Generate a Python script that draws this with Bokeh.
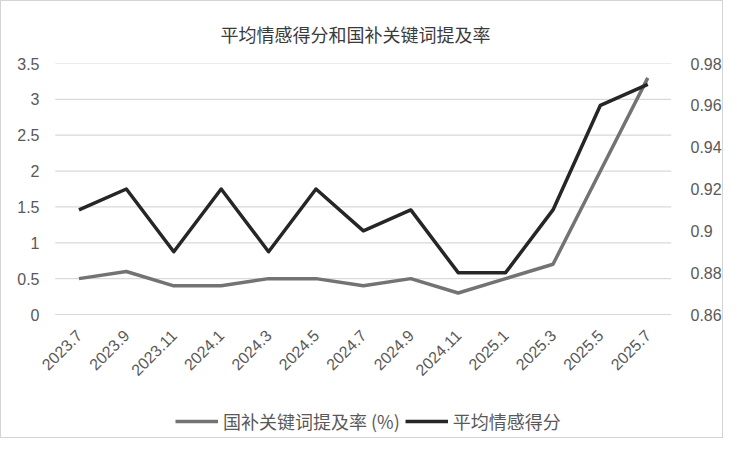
from bokeh.plotting import figure
from bokeh.models import (Range1d, LinearAxis, FixedTicker, CustomJSTickFormatter,
                          Legend, LegendItem)
from bokeh.embed import file_html
from bokeh.resources import INLINE
import math

categories = ["2023.7", "2023.9", "2023.11", "2024.1", "2024.3", "2024.5", "2024.7",
              "2024.9", "2024.11", "2025.1", "2025.3", "2025.5", "2025.7"]
mention_rate = [0.5, 0.6, 0.4, 0.4, 0.5, 0.5, 0.4, 0.5, 0.3, 0.5, 0.7, 2.0, 3.3]
sentiment = [0.91, 0.92, 0.89, 0.92, 0.89, 0.92, 0.90, 0.91, 0.88, 0.88, 0.91, 0.96, 0.97]
left_ticks = [0, 0.5, 1, 1.5, 2, 2.5, 3, 3.5]
right_ticks = [0.86, 0.88, 0.90, 0.92, 0.94, 0.96, 0.98]
title_text = "平均情感得分和国补关键词提及率"
series_names = ["国补关键词提及率 (%)", "平均情感得分"]

NUM_FONT = "Liberation Sans"
CJK_FONT = "Noto Sans CJK SC"
TXT = "#595959"

# ---- layout (pixels) ----
W, H = 723, 438
TOP, BOTTOM = 62, 2
LEFT, RIGHT = 38, 43
PLOT_H = 251                      # height of the 0..3.5 value region
GRID_W = 626                      # width of the gridlines
frame_h = H - TOP - BOTTOM
frame_w = W - LEFT - RIGHT
extra_bottom = frame_h - PLOT_H   # room below value 0 for labels + legend

n = len(categories)
xs = list(range(n))
cat_w = GRID_W / n
x_end = n - 0.5
x_start = x_end - frame_w / cat_w

l_lo, l_hi = left_ticks[0], left_ticks[-1]
r_lo, r_hi = right_ticks[0], right_ticks[-1]
l_start = l_lo - extra_bottom * (l_hi - l_lo) / PLOT_H
r_start = r_lo - extra_bottom * (r_hi - r_lo) / PLOT_H

p = figure(width=W, height=H, x_range=Range1d(x_start, x_end),
           y_range=Range1d(l_start, l_hi), output_backend="svg", toolbar_location=None,
           min_border_left=LEFT, min_border_right=RIGHT, min_border_top=TOP,
           min_border_bottom=BOTTOM)
p.styles = {"border": "1px solid #d4d4d4"}
p.extra_y_ranges = {"right": Range1d(r_start, r_hi)}
p.outline_line_color = None
p.background_fill_color = "white"

p.title.text = title_text
p.title.align = "center"
p.title.text_font = CJK_FONT
p.title.text_font_size = "18px"
p.title.text_font_style = "normal"
p.title.text_color = "#3a3a3a"
p.title.standoff = 33

fmt = CustomJSTickFormatter(code="return String(Math.round(tick*100)/100);")

yl = p.yaxis[0]
yl.ticker = FixedTicker(ticks=left_ticks)
yl.formatter = fmt
yl.major_label_standoff = -6
yr = LinearAxis(y_range_name="right", ticker=FixedTicker(ticks=right_ticks), formatter=fmt)
yr.major_label_standoff = 13
p.add_layout(yr, "right")

for ax in [yl, yr]:
    ax.axis_line_color = None
    ax.major_tick_line_color = None
    ax.minor_tick_line_color = None
    ax.major_label_text_font = NUM_FONT
    ax.major_label_text_font_size = "16px"
    ax.major_label_text_color = TXT

xa = p.xaxis[0]
xa.fixed_location = l_lo
xa.ticker = FixedTicker(ticks=xs)
xa.major_label_overrides = {i: c for i, c in zip(xs, categories)}
xa.axis_line_color = None
xa.major_tick_line_color = None
xa.minor_tick_line_color = None
xa.major_label_orientation = math.pi / 4
xa.major_label_text_font = NUM_FONT
xa.major_label_text_font_size = "16px"
xa.major_label_text_color = TXT
xa.major_label_standoff = 12

p.xgrid.grid_line_color = None
p.ygrid.grid_line_color = None

# horizontal gridlines spanning the category band only
p.segment(x0=[-0.5] * len(left_ticks), x1=[n - 0.5] * len(left_ticks),
          y0=left_ticks, y1=left_ticks, line_color="#d9d9d9", line_width=1.2,
          level="underlay")

r1 = p.line(xs, mention_rate, line_color="#737373", line_width=3.5, line_join="round")
r2 = p.line(xs, sentiment, line_color="#262626", line_width=3.5, line_join="round",
            y_range_name="right")

legend = Legend(items=[LegendItem(label=series_names[0], renderers=[r1]),
                       LegendItem(label=series_names[1], renderers=[r2])],
                orientation="horizontal", location=(136, 3),
                label_text_font=CJK_FONT, label_text_font_size="18px",
                label_text_color=TXT, glyph_width=43, glyph_height=18,
                spacing=5, label_standoff=5, padding=3, margin=0,
                border_line_color=None, background_fill_alpha=0)
p.add_layout(legend, "center")

open("out.html", "w").write(file_html(p, INLINE))
